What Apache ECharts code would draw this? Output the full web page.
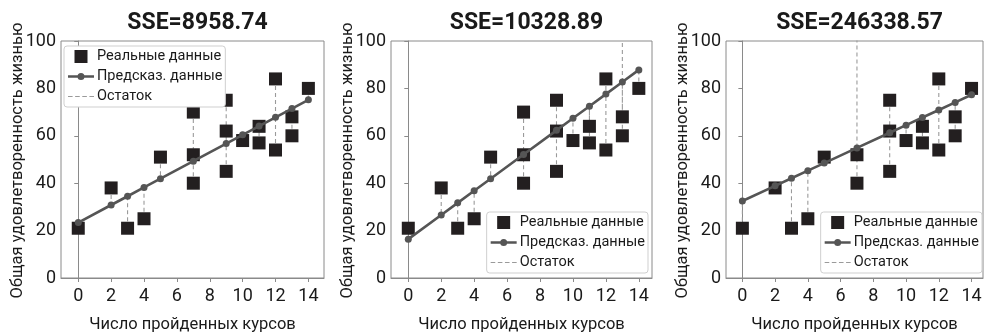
<!DOCTYPE html>
<html>
<head>
<meta charset="utf-8">
<script src="https://cdn.jsdelivr.net/npm/echarts@6/dist/echarts.min.js"></script>
<style>
  html, body { margin: 0; padding: 0; background: #fff; }
  #chart { width: 991px; height: 336px; }
</style>
</head>
<body>
<div id="chart"></div>
<script>
// Observed data: number of courses taken vs overall life satisfaction
const coursesReal = [0, 2, 3, 4, 5, 7, 7, 7, 9, 9, 9, 10, 11, 11, 12, 12, 13, 13, 14];
const satisfactionA = [21, 38, 21, 25, 51, 70, 52, 40, 75, 62, 45, 58, 64, 57, 84, 54, 68, 60, 80];
// same sample with an extra far-off point at x = 13 (above the visible range)
const coursesB = [0, 2, 3, 4, 5, 7, 7, 7, 9, 9, 9, 10, 11, 11, 12, 12, 13, 13, 13, 14];
const satisfactionB = [21, 38, 21, 25, 51, 70, 52, 40, 75, 62, 45, 58, 64, 57, 84, 54, 170, 68, 60, 80];
// same sample where one point at x = 7 lies far above the visible range
const satisfactionC = [21, 38, 21, 25, 51, 550, 52, 40, 75, 62, 45, 58, 64, 57, 84, 54, 68, 60, 80];

// Predicted values of each fitted line
const coursesPred = [0, 2, 3, 4, 5, 7, 9, 10, 11, 12, 13, 14];
const predA = [23.4, 30.8, 34.5, 38.2, 41.9, 49.3, 56.7, 60.4, 64.1, 67.8, 71.5, 75.2];
const predB = [16.4, 26.6, 31.7, 36.8, 41.9, 52.1, 62.3, 67.4, 72.5, 77.6, 82.7, 87.8];
const predC = [32.5, 38.9, 42.1, 45.3, 48.5, 54.9, 61.3, 64.5, 67.7, 70.9, 74.1, 77.3];

const titles = ['SSE=8958.74', 'SSE=10328.89', 'SSE=246338.57'];
const xTicks = [0, 2, 4, 6, 8, 10, 12, 14];
const yTicks = [0, 20, 40, 60, 80, 100];

const NAME_REAL = 'Реальные данные';
const NAME_PRED = 'Предсказ. данные';
const NAME_RES = 'Остаток';
const X_TITLE = 'Число пройденных курсов';
const Y_TITLE = 'Общая удовлетворенность жизнью';

const FONT = 'Roboto, "Liberation Sans", sans-serif';
const FRAME = '#8a8a8a';
const INK = '#1a1a1a';
const NAME_SIZE = 16.5;

// legend glyphs: filled square, line with a dot, dashed line
const ICON_SQUARE = 'path://M0,0H13V13H0Z';
const ICON_LINE_DOT = 'path://M0,2.2H26V4.8H0Z M9.5,3.5A3.5,3.5,0,1,1,16.5,3.5A3.5,3.5,0,1,1,9.5,3.5Z';
const ICON_DASH = 'path://M0,0H4.5V1.2H0Z M7,0H11.5V1.2H7Z M14,0H18.5V1.2H14Z M21,0H25.5V1.2H21Z';

const panels = [
  { xs: coursesReal, ys: satisfactionA, pred: predA, left: 61, width: 263, xMin: -1.05, xMax: 14.95, legend: 'topleft' },
  { xs: coursesB, ys: satisfactionB, pred: predB, left: 391, width: 261, xMin: -1.05, xMax: 14.8, legend: 'bottomright', legendRight: 343 },
  { xs: coursesReal, ys: satisfactionC, pred: predC, left: 726, width: 257, xMin: -1.0, xMax: 14.7, legend: 'bottomright', legendRight: 9 }
];
const GRID_TOP = 41, GRID_H = 237;

const option = {
  animation: false,
  backgroundColor: '#fff',
  textStyle: { fontFamily: FONT },
  title: [], grid: [], xAxis: [], yAxis: [], legend: [], series: [], graphic: []
};

panels.forEach((p, i) => {
  option.grid.push({
    left: p.left, top: GRID_TOP, width: p.width, height: GRID_H,
    outerBoundsMode: 'none', containLabel: false,
    show: true, borderColor: FRAME, borderWidth: 1, backgroundColor: '#fff'
  });
  option.title.push({
    text: titles[i],
    left: p.left + p.width / 2, top: 7, textAlign: 'center',
    textStyle: { fontFamily: FONT, fontSize: 23, fontWeight: 'bold', color: INK }
  });
  option.xAxis.push({
    type: 'value', gridIndex: i, min: p.xMin, max: p.xMax,
    name: X_TITLE, nameLocation: 'middle', nameGap: 38,
    nameTextStyle: { fontFamily: FONT, fontSize: NAME_SIZE, color: INK },
    axisLine: { show: true, lineStyle: { color: FRAME } },
    axisTick: { show: true, length: 4, customValues: xTicks, lineStyle: { color: FRAME } },
    axisLabel: { customValues: xTicks, fontFamily: FONT, fontSize: 18, color: INK, margin: 9 },
    splitLine: { show: false }
  });
  option.yAxis.push({
    type: 'value', gridIndex: i, min: 0, max: 100, interval: 20,
    axisLine: { show: true, lineStyle: { color: FRAME } },
    axisTick: { show: true, length: 4, lineStyle: { color: FRAME } },
    axisLabel: { fontFamily: FONT, fontSize: 18, color: INK, margin: 5 },
    splitLine: { show: false }
  });
  // vertical axis title, centred on the plot height, left of the tick labels
  option.graphic.push({
    type: 'text',
    x: p.left - 43, y: GRID_TOP + GRID_H / 2 + 1,
    rotation: Math.PI / 2,
    style: {
      text: Y_TITLE, fill: INK,
      font: NAME_SIZE + 'px ' + FONT,
      align: 'center', verticalAlign: 'middle'
    }
  });

  // residual segments from each observed point to the fitted line, broken by empty points
  const resData = [];
  p.xs.forEach((x, k) => {
    const yhat = p.pred[coursesPred.indexOf(x)];
    resData.push([x, p.ys[k]], [x, yhat], [x, '-']);
  });

  option.series.push({
    name: NAME_RES, type: 'line', xAxisIndex: i, yAxisIndex: i,
    data: resData, symbol: 'none', connectNulls: false, clip: true, z: 1,
    lineStyle: { color: '#9a9a9a', width: 1.1, type: [4, 3] },
    itemStyle: { color: '#9a9a9a' }
  });
  option.series.push({
    name: NAME_REAL, type: 'scatter', xAxisIndex: i, yAxisIndex: i,
    data: p.xs.map((x, k) => [x, p.ys[k]]), symbol: 'rect', symbolSize: 13, clip: true, z: 2,
    itemStyle: { color: '#231f20', opacity: 1 }
  });
  option.series.push({
    name: NAME_PRED, type: 'line', xAxisIndex: i, yAxisIndex: i,
    data: coursesPred.map((x, k) => [x, p.pred[k]]), symbol: 'circle', symbolSize: 7,
    showSymbol: true, clip: true, z: 3,
    lineStyle: { color: '#555', width: 2.6 },
    itemStyle: { color: '#555' }
  });

  const lg = {
    orient: 'vertical',
    data: [
      { name: NAME_REAL, icon: ICON_SQUARE },
      { name: NAME_PRED, icon: ICON_LINE_DOT },
      { name: NAME_RES, icon: ICON_DASH }
    ],
    itemWidth: 26, itemHeight: 13, itemGap: 5,
    symbolKeepAspect: true,
    padding: [3, 3, 3, 4],
    itemStyle: { borderWidth: 0 },
    backgroundColor: '#fff', borderColor: '#cfcfcf', borderWidth: 1, borderRadius: 3,
    textStyle: { fontFamily: FONT, fontSize: 14.5, color: INK, padding: [0, 0, 0, -2] },
    selectedMode: false
  };
  if (p.legend === 'topleft') {
    lg.left = p.left + 3; lg.top = GRID_TOP + 5;
  } else {
    lg.right = p.legendRight; lg.bottom = 63;
  }
  option.legend.push(lg);
});

const chart = echarts.init(document.getElementById('chart'), null, { renderer: 'canvas' });
chart.setOption(option);
</script>
</body>
</html>
